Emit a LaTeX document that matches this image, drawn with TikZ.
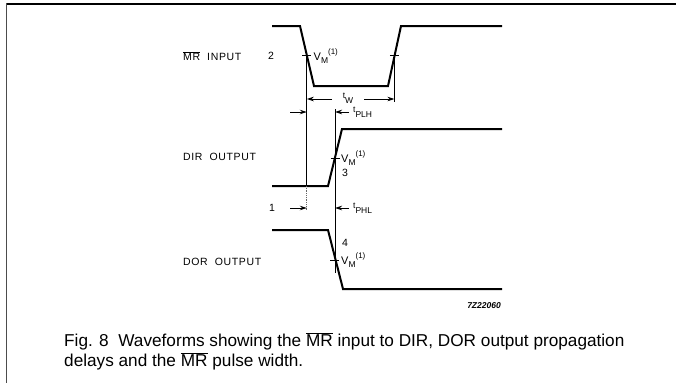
\documentclass[tikz,border=0pt]{standalone}
\usepackage{fontspec}
\setmainfont{Liberation Sans}
\newfontfamily\spacedfont[LetterSpace=6]{Liberation Sans}
\usetikzlibrary{arrows.meta}
\newcommand{\mysub}[1]{\raisebox{-0.45ex}{\fontsize{8.5}{9}\selectfont #1}}
\newcommand{\mysup}[1]{\raisebox{1.0ex}{\fontsize{8}{9}\selectfont #1}}
\newcommand{\smallt}{\raisebox{0.45ex}{\fontsize{8.5}{9}\selectfont t}}
\newcommand{\VM}{V\mysub{M}\mysup{(1)}}
\begin{document}
\begin{tikzpicture}[x=1pt,y=-1pt,
  wave/.style={line width=2pt, line join=miter},
  refline/.style={line width=0.8pt},
  tick/.style={line width=1pt},
  dimarrow/.style={line width=0.9pt,-{Stealth[length=7pt,width=4.5pt]}},
  sig/.style={font=\spacedfont\fontsize{10.5}{12}\selectfont, inner sep=0pt, anchor=west},
  note/.style={font=\fontsize{11}{12}\selectfont, inner sep=0pt, anchor=west},
  num/.style={font=\fontsize{10.5}{12}\selectfont, inner sep=0pt},
  caption/.style={font=\fontsize{17.2}{20}\selectfont, inner sep=0pt, anchor=west}
  ]
\useasboundingbox (0,0) rectangle (676,383);
% frame
\draw[line width=2pt] (7,4) -- (676,4);
\draw[line width=1pt, black!70] (6.5,3) -- (6.5,383);

% waveforms
\draw[wave] (272,26) -- (300,26) -- (314,86) -- (388,86) -- (401,26) -- (502,26);
\draw[wave] (272,186) -- (328,186) -- (342,129) -- (502,129);
\draw[wave] (272,230) -- (328,230) -- (343,289) -- (502,289);

% crossing points
\coordinate (mrf) at (306.8,55);
\coordinate (mrr) at (394.4,55);
\coordinate (dirr) at (335,158);
\coordinate (dorf) at (334.5,260);

% crossing ticks
\foreach \p in {mrf,mrr,dirr,dorf}
  \draw[tick] ([xshift=-4.5pt]\p) -- ([xshift=4.5pt]\p);

% reference lines
\coordinate (l1a) at (306.8,55);
\coordinate (l1b) at (306.8,186);
\coordinate (l1c) at (306.8,211);
\draw[refline] (l1a) -- (l1b);
\draw[refline, densely dotted, black!60] (l1b) -- (l1c);
\coordinate (l2a) at (335,109);
\coordinate (l2b) at (335,273);
\draw[refline] (l2a) -- (l2b);
\coordinate (l3a) at (394.4,55);
\coordinate (l3b) at (394.4,102);
\draw[refline] (l3a) -- (l3b);

% tW
\coordinate (tw1) at (332,99);
\coordinate (tw1e) at (306.8,99);
\coordinate (tw2) at (364,99);
\coordinate (tw2e) at (394.4,99);
\draw[dimarrow] (tw1) -- (tw1e);
\draw[dimarrow] (tw2) -- (tw2e);
\node[note, anchor=center] (tw) at (348,98) {\smallt\mysub{W}};

% tPLH row
\coordinate (a1) at (290,112);
\coordinate (a1e) at (306.8,112);
\draw[dimarrow] (a1) -- (a1e);
\coordinate (a2) at (349,112);
\coordinate (a2e) at (335,112);
\draw[dimarrow] (a2) -- (a2e);
\node[note] (tplh) at (353,112) {\smallt\mysub{PLH}};

% tPHL row
\node[num] (one) at (272,208) {1};
\coordinate (b1) at (290,208);
\coordinate (b1e) at (306.8,208);
\draw[dimarrow] (b1) -- (b1e);
\coordinate (b2) at (349,208);
\coordinate (b2e) at (335,208);
\draw[dimarrow] (b2) -- (b2e);
\node[note] (tphl) at (353,208) {\smallt\mysub{PHL}};

% labels
\node[sig] (mrlbl) at (183,56) {$\overline{\mbox{MR}}$\ \ INPUT};
\node[num] (two) at (271,56) {2};
\node[sig] (dirlbl) at (183,157) {DIR\ \ OUTPUT};
\node[sig] (dorlbl) at (183,262) {DOR\ \ OUTPUT};
\node[note] (vm1) at (313.5,56) {\VM};
\node[note] (vm2) at (341,158) {\VM};
\node[note] (vm3) at (341,260) {\VM};
\node[num] (three) at (345,173) {3};
\node[num] (four) at (345,243) {4};
\node[font=\itshape\bfseries\fontsize{8.5}{10}\selectfont, inner sep=0pt, anchor=east] (code) at (501,306) {7Z22060};

% caption
\node[caption] (cap1) at (64,341) {Fig. 8\ \ Waveforms showing the $\overline{\mbox{MR}}$ input to DIR, DOR output propagation};
\node[caption] (cap2) at (64,361) {delays and the $\overline{\mbox{MR}}$ pulse width.};
\end{tikzpicture}
\end{document}
